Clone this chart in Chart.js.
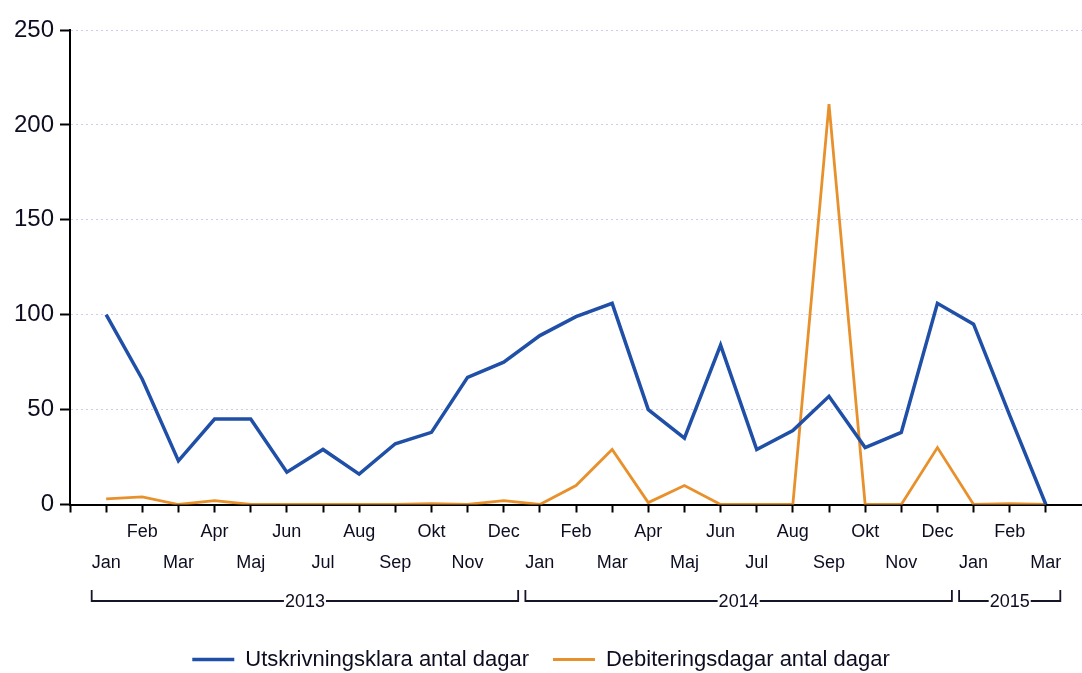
<!DOCTYPE html>
<html>
<head>
<meta charset="utf-8">
<script src="https://cdn.jsdelivr.net/npm/chart.js@4/dist/chart.umd.min.js"></script>
<style>
  html, body { margin: 0; padding: 0; background: #fff; }
  #wrap { width: 1082px; height: 673px; }
</style>
</head>
<body>
<div id="wrap"><canvas id="grafico"></canvas></div>
<script>
// ===================== DATA =====================
const manader = ["Jan", "Feb", "Mar", "Apr", "Maj", "Jun", "Jul", "Aug", "Sep", "Okt", "Nov", "Dec",
                 "Jan", "Feb", "Mar", "Apr", "Maj", "Jun", "Jul", "Aug", "Sep", "Okt", "Nov", "Dec",
                 "Jan", "Feb", "Mar"];
const ar = ["2013", "2014", "2015"];
const manaderPerAr = [12, 12, 3];
const utskrivningsklara = [100, 66, 23, 45, 45, 17, 29, 16, 32, 38, 67, 75,
                           89, 99, 106, 50, 35, 84, 29, 39, 57, 30, 38, 106,
                           95, 47, 0];
const debiteringsdagar = [3, 4, 0, 2, 0, 0, 0, 0, 0, 0.5, 0, 2,
                          0, 10, 29, 1, 10, 0, 0, 0, 211, 0, 0, 30,
                          0, 0.5, 0];
const yTicks = [0, 50, 100, 150, 200, 250];

const textColor = "#0d0d22";
const fontFamily = "'Liberation Sans', Arial, sans-serif";

// år-klamrar under månadsetiketterna
const arKlamrar = {
    id: "arKlamrar",
    afterDraw(chart) {
        const ctx = chart.ctx;
        const x = chart.scales.x;
        const y = 601;
        ctx.save();
        ctx.strokeStyle = "#15152a";
        ctx.lineWidth = 1.8;
        ctx.fillStyle = textColor;
        ctx.font = "18px " + fontFamily;
        ctx.textAlign = "center";
        ctx.textBaseline = "middle";
        let start = 0;
        ar.forEach((namn, i) => {
            const slut = start + manaderPerAr[i] - 1;
            const x1 = x.getPixelForValue(start - 0.4);
            const x2 = x.getPixelForValue(slut + 0.4);
            const mitt = (x1 + x2) / 2;
            const halv = ctx.measureText(namn).width / 2 + 1;
            ctx.beginPath();
            ctx.moveTo(x1, y - 11);
            ctx.lineTo(x1, y);
            ctx.lineTo(mitt - halv, y);
            ctx.moveTo(mitt + halv, y);
            ctx.lineTo(x2, y);
            ctx.lineTo(x2, y - 11);
            ctx.stroke();
            ctx.fillText(namn, mitt, y + 1);
            start = slut + 1;
        });
        ctx.restore();
    }
};

const ctx = document.getElementById("grafico").getContext("2d");
new Chart(ctx, {
    type: "line",
    data: {
        datasets: [
            {
                label: "Utskrivningsklara antal dagar",
                data: utskrivningsklara.map((v, i) => ({ x: i, y: v })),
                borderColor: "#1f4fa6",
                backgroundColor: "#1f4fa6",
                borderWidth: 3.5,
                pointRadius: 0,
                tension: 0
            },
            {
                label: "Debiteringsdagar antal dagar",
                data: debiteringsdagar.map((v, i) => ({ x: i, y: v })),
                borderColor: "#e8912c",
                backgroundColor: "#e8912c",
                borderWidth: 2.8,
                pointRadius: 0,
                tension: 0
            }
        ]
    },
    options: {
        responsive: true,
        maintainAspectRatio: false,
        animation: false,
        layout: { padding: { top: 30, right: 0, left: 0, bottom: -7.5 } },
        plugins: {
            tooltip: { enabled: false },
            legend: {
                position: "bottom",
                labels: {
                    usePointStyle: true,
                    pointStyle: "line",
                    pointStyleWidth: 42,
                    color: textColor,
                    font: { size: 22, family: fontFamily },
                    padding: 24
                }
            }
        },
        scales: {
            x: {
                type: "linear",
                min: -1,
                max: 27,
                afterFit: s => { s.height = 120; },
                afterBuildTicks: s => {
                    s.ticks = [];
                    for (let i = -1; i < manader.length; i++) s.ticks.push({ value: i });
                },
                ticks: {
                    autoSkip: false,
                    maxRotation: 0,
                    padding: 5,
                    color: textColor,
                    font: { size: 18, family: fontFamily, lineHeight: 1.67 },
                    callback: v => {
                        if (v < 0 || v >= manader.length) return "";
                        return v % 2 ? [manader[v], ""] : ["", manader[v]];
                    }
                },
                grid: {
                    drawOnChartArea: false,
                    drawTicks: true,
                    tickLength: 8,
                    tickColor: "#000",
                    tickWidth: 2
                },
                border: { color: "#000", width: 2 }
            },
            y: {
                min: 0,
                max: 250,
                afterFit: s => { s.width = 70; },
                afterBuildTicks: s => { s.ticks = yTicks.map(v => ({ value: v })); },
                ticks: {
                    padding: 6,
                    color: textColor,
                    font: { size: 24, family: fontFamily }
                },
                grid: {
                    color: "#cdcdeb",
                    lineWidth: 1,
                    tickLength: 10,
                    tickColor: "#000",
                    tickWidth: 2,
                    tickBorderDash: []
                },
                border: { color: "#000", width: 2, dash: [2, 3] }
            }
        }
    },
    plugins: [arKlamrar]
});
</script>
</body>
</html>
